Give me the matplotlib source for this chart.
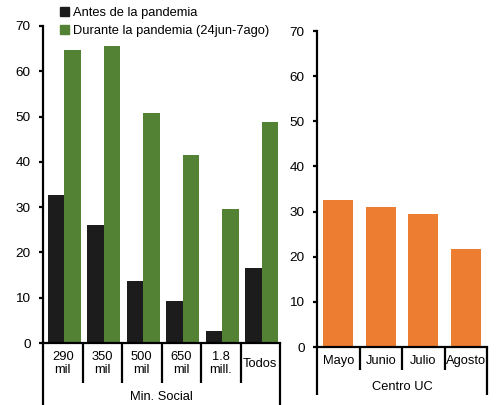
import numpy as np
import matplotlib.pyplot as plt
from matplotlib.patches import Patch

plt.rcParams['font.family'] = ['Liberation Sans', 'DejaVu Sans']
fs = 9.3
plt.rcParams['font.size'] = fs

# data
min_social_cats = ['290\nmil', '350\nmil', '500\nmil', '650\nmil', '1.8\nmill.', 'Todos']
antes = [32.7, 26.0, 13.8, 9.2, 2.7, 16.5]
durante = [64.7, 65.6, 50.7, 41.6, 29.7, 48.8]
centro_cats = ['Mayo', 'Junio', 'Julio', 'Agosto']
centro_vals = [32.5, 31.0, 29.4, 21.6]

black = '#1c1c1c'
green = '#548235'
orange = '#ED7D31'
lw = 1.6


def style_axis(ax):
    ax.set_ylim(0, 70)
    ax.set_yticks(range(0, 71, 10))
    for s in ['top', 'right']:
        ax.spines[s].set_visible(False)
    ax.spines['left'].set_linewidth(lw)
    ax.spines['bottom'].set_linewidth(lw)
    ax.tick_params(axis='y', direction='out', length=3, width=lw, pad=6,
                   labelsize=fs + 0.4)
    ax.set_xticks([])


def group_axis(ax, n, labels, inner_depth, outer_depth, outer_label, label_y, outer_y):
    ax.set_xlim(-0.5, n - 0.5)
    trans = ax.get_xaxis_transform()
    for i in range(n + 1):
        x = i - 0.5
        depth = outer_depth if i in (0, n) else inner_depth
        ax.plot([x, x], [0, depth], color='black', lw=lw, transform=trans,
                clip_on=False, solid_capstyle='butt')
    for i, lab in enumerate(labels):
        ax.text(i, label_y, lab, transform=trans, ha='center', va='center',
                fontsize=fs, linespacing=1.1)
    ax.text((n - 1) / 2, outer_y, outer_label, transform=trans, ha='center',
            va='center', fontsize=fs)


fig = plt.figure(figsize=(4.97, 4.05), dpi=100)

# left chart
ax1 = fig.add_axes([43 / 497, 1 - 343 / 405, (280 - 43) / 497, (343 - 26) / 405])
x = np.arange(len(min_social_cats))
w = 0.42
ax1.bar(x - w / 2 + 0.04, antes, w, color=black)
ax1.bar(x + w / 2 + 0.04, durante, w, color=green)
style_axis(ax1)
group_axis(ax1, len(min_social_cats), min_social_cats, -0.125, -0.2,
           'Min. Social', -0.066, -0.171)

# right chart
ax2 = fig.add_axes([317 / 497, 1 - 347 / 405, (487 - 317) / 497, (347 - 31) / 405])
x2 = np.arange(len(centro_cats))
ax2.bar(x2, centro_vals, 0.7, color=orange)
style_axis(ax2)
group_axis(ax2, len(centro_cats), centro_cats, -0.073, -0.152,
           'Centro UC', -0.043, -0.127)

handles = [Patch(color=black), Patch(color=green)]
fig.legend(handles, ['Antes de la pandemia', 'Durante la pandemia (24jun-7ago)'],
           loc='upper left', bbox_to_anchor=(0.119, 0.986), frameon=False,
           handlelength=0.7, handleheight=0.7, handletextpad=0.3,
           labelspacing=0.45, borderaxespad=0, borderpad=0.1, fontsize=fs)

fig.savefig('out.png', dpi=100)
